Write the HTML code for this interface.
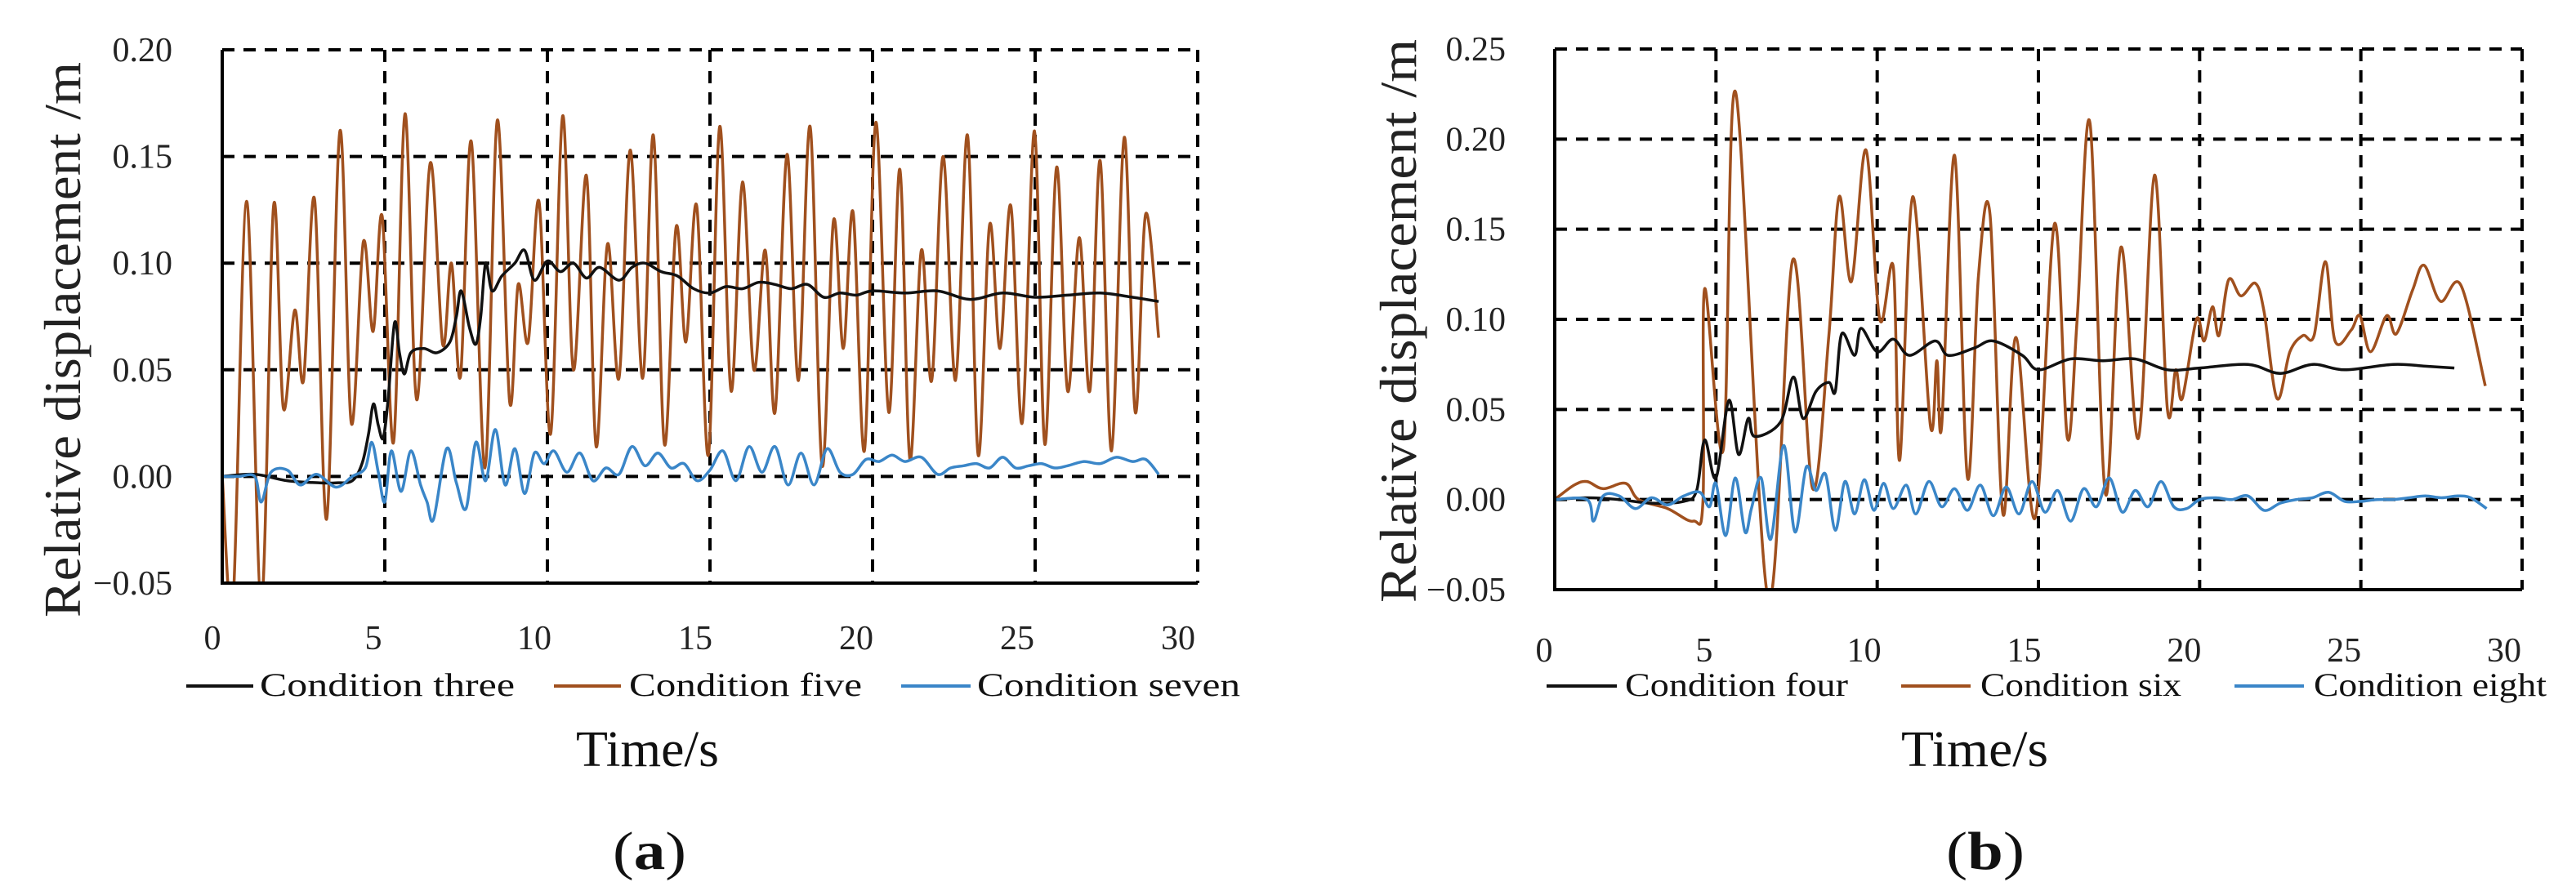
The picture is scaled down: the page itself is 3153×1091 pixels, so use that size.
<!DOCTYPE html>
<html><head><meta charset="utf-8"><style>
html,body{margin:0;padding:0;background:#fff;}
svg{display:block;font-family:"Liberation Serif",serif;}
</style></head><body>
<svg id="root" width="3153" height="1091" viewBox="0 0 3153 1091" xmlns="http://www.w3.org/2000/svg"></svg>
<script>
// ---------- Chart (a) data ----------
const aXTicks = [0,5,10,15,20,25,30];
const aYTicks = [-0.05,0,0.05,0.10,0.15,0.20];
const aYTickLabels = ["\u22120.05","0.00","0.05","0.10","0.15","0.20"];
const aFiveT = [0,0.33,0.75,1.2,1.58,1.88,2.23,2.5,2.84,3.21,3.62,3.97,4.34,4.64,4.92,5.27,5.62,5.98,6.4,6.78,7.05,7.33,7.66,8.08,8.46,8.84,9.1,9.41,9.74,10.1,10.47,10.8,11.2,11.5,11.85,12.2,12.55,12.93,13.26,13.6,13.96,14.26,14.59,14.95,15.3,15.65,16.0,16.35,16.7,17.0,17.37,17.72,18.08,18.45,18.8,19.1,19.4,19.75,20.1,20.5,20.84,21.15,21.5,21.82,22.17,22.55,22.92,23.25,23.6,23.92,24.25,24.6,24.98,25.3,25.66,26.0,26.36,26.68,27.0,27.35,27.74,28.08,28.4,28.8];
const aFiveV = [0,-0.06,0.129,-0.06,0.127,0.032,0.078,0.045,0.13,-0.02,0.162,0.025,0.11,0.068,0.122,0.016,0.17,0.036,0.147,0.062,0.1,0.047,0.157,0.004,0.167,0.035,0.09,0.063,0.129,0.02,0.169,0.05,0.141,0.014,0.109,0.046,0.153,0.046,0.16,0.015,0.117,0.063,0.127,0.01,0.164,0.04,0.138,0.05,0.106,0.03,0.151,0.045,0.164,0.005,0.12,0.06,0.124,0.012,0.166,0.03,0.144,0.008,0.106,0.045,0.15,0.045,0.16,0.01,0.118,0.06,0.127,0.025,0.162,0.015,0.145,0.04,0.112,0.04,0.148,0.012,0.159,0.03,0.123,0.065];
const aThreeT = [0,1,2,3,3.5,4.0,4.3,4.5,4.65,4.8,4.95,5.1,5.3,5.45,5.6,5.8,6.2,6.6,7.0,7.2,7.35,7.6,7.8,7.95,8.1,8.3,8.6,9.0,9.3,9.6,10.0,10.4,10.8,11.2,11.6,12.2,12.6,13.0,13.5,14.0,14.5,15.0,15.5,16.0,16.5,17.0,17.5,18.0,18.5,19.0,19.5,20.0,21.0,22.0,23.0,24.0,25.0,26.0,27.0,28.0,28.8];
const aThreeV = [0,0.001,-0.002,-0.003,-0.003,-0.002,0.006,0.02,0.034,0.024,0.018,0.036,0.072,0.058,0.048,0.058,0.06,0.058,0.063,0.075,0.087,0.07,0.062,0.075,0.1,0.087,0.094,0.1,0.106,0.092,0.101,0.096,0.1,0.093,0.098,0.092,0.098,0.1,0.096,0.094,0.088,0.086,0.089,0.088,0.091,0.09,0.088,0.09,0.084,0.086,0.085,0.087,0.086,0.087,0.083,0.086,0.084,0.085,0.086,0.084,0.082];
const aSevenT = [0,0.5,1.0,1.2,1.5,2.0,2.4,2.9,3.5,4.0,4.4,4.6,4.8,5.0,5.2,5.5,5.8,6.1,6.3,6.5,6.9,7.2,7.5,7.8,8.1,8.4,8.7,9.0,9.3,9.6,9.9,10.2,10.6,11.0,11.4,11.8,12.2,12.6,13.0,13.4,13.8,14.2,14.6,15.0,15.4,15.8,16.2,16.6,17.0,17.4,17.8,18.2,18.6,19.0,19.4,19.8,20.2,20.6,21.0,21.5,22.0,22.4,22.8,23.2,23.6,24.0,24.4,24.8,25.2,25.6,26.0,26.5,27.0,27.5,28.0,28.4,28.8];
const aSevenV = [0,0,0,-0.012,0.002,0.003,-0.004,0.001,-0.005,0,0.004,0.016,0.002,-0.012,0.012,-0.007,0.012,-0.004,-0.012,-0.02,0.013,-0.003,-0.015,0.016,-0.002,0.022,-0.004,0.013,-0.008,0.011,0.006,0.012,0.002,0.011,-0.002,0.004,0.001,0.014,0.005,0.011,0.004,0.006,-0.002,0.003,0.012,-0.002,0.014,0.002,0.014,-0.004,0.011,-0.004,0.013,0.002,0.001,0.008,0.007,0.01,0.007,0.009,0.001,0.004,0.005,0.006,0.004,0.009,0.004,0.005,0.006,0.004,0.005,0.007,0.006,0.009,0.007,0.008,0.001];

// ---------- Chart (b) data ----------
const bXTicks = [0,5,10,15,20,25,30];
const bYTicks = [-0.05,0,0.05,0.10,0.15,0.20,0.25];
const bYTickLabels = ["\u22120.05","0.00","0.05","0.10","0.15","0.20","0.25"];
const bSixT = [0,0.6,1.0,1.5,2.2,2.6,3.5,4.3,4.6,4.65,5.23,5.61,6.62,7.38,8.0,8.5,8.82,9.2,9.65,10.08,10.5,10.7,11.1,11.65,11.85,12.0,12.4,12.8,13.14,13.5,13.9,14.3,14.9,15.5,15.9,16.2,16.6,17.08,17.56,18.1,18.6,19.0,19.26,19.46,19.9,20.14,20.4,20.6,20.9,21.28,21.73,22.0,22.4,22.8,23.2,23.55,23.9,24.2,24.7,24.97,25.3,25.8,26.1,26.6,26.96,27.47,28.1,28.86];
const bSixV = [0,0.008,0.01,0.006,0.009,0.0,-0.005,-0.012,0.0,0.117,0.028,0.226,-0.055,0.133,0.006,0.091,0.168,0.121,0.194,0.1,0.129,0.022,0.168,0.041,0.077,0.041,0.191,0.012,0.124,0.158,-0.008,0.09,-0.01,0.153,0.034,0.1,0.209,0.003,0.14,0.034,0.18,0.05,0.072,0.056,0.1,0.088,0.107,0.091,0.122,0.113,0.12,0.104,0.056,0.082,0.091,0.091,0.132,0.088,0.094,0.102,0.082,0.102,0.092,0.116,0.13,0.11,0.119,0.063];
const bFourT = [0,1,2,3,4.0,4.4,4.65,5.0,5.4,5.7,6.0,6.2,7.0,7.4,7.7,8.1,8.5,8.7,8.9,9.3,9.5,10.0,10.5,11.0,11.8,12.2,13.0,13.6,14.5,15.0,16.0,17.0,18.0,19.0,20.0,21.5,22.5,23.5,24.5,26.0,27.0,27.9];
const bFourV = [0,0.001,0.0,-0.002,-0.001,0.005,0.033,0.012,0.055,0.025,0.045,0.035,0.043,0.068,0.045,0.06,0.065,0.06,0.092,0.08,0.095,0.082,0.089,0.08,0.088,0.08,0.084,0.088,0.08,0.072,0.078,0.077,0.078,0.072,0.073,0.075,0.07,0.075,0.072,0.075,0.074,0.073];
const bEightT = [0,1.0,1.2,1.5,2.0,2.5,3.0,3.5,4.0,4.5,4.8,5.0,5.3,5.6,5.9,6.1,6.4,6.7,7.1,7.45,7.8,8.1,8.4,8.7,9.0,9.3,9.6,9.9,10.2,10.5,10.9,11.2,11.6,12.0,12.4,12.8,13.2,13.6,14.0,14.4,14.8,15.2,15.6,16.0,16.4,16.8,17.2,17.6,18.0,18.4,18.8,19.2,19.6,20.0,20.5,21.0,21.5,22.0,22.5,23.0,23.5,24.0,24.5,25.0,25.5,26.0,26.5,27.0,27.5,28.0,28.4,28.9];
const bEightV = [0,0,-0.012,0.002,0.002,-0.005,0.001,-0.003,0.002,0.004,-0.004,0.009,-0.02,0.012,-0.018,-0.005,0.012,-0.022,0.03,-0.018,0.018,0.005,0.014,-0.017,0.01,-0.008,0.011,-0.006,0.009,-0.005,0.008,-0.008,0.01,-0.004,0.006,-0.006,0.008,-0.009,0.007,-0.008,0.01,-0.007,0.005,-0.012,0.006,-0.004,0.012,-0.007,0.005,-0.004,0.01,-0.004,-0.005,0.0,0.001,0.0,0.002,-0.006,-0.002,0.0,0.001,0.004,-0.001,-0.001,0.0,0.0,0.001,0.002,0.001,0.002,0.001,-0.005];

const NS = "http://www.w3.org/2000/svg";
const root = document.getElementById('root');
function mk(tag, attrs, parent){const e=document.createElementNS(NS,tag);for(const k in attrs)e.setAttribute(k,attrs[k]);(parent||root).appendChild(e);return e;}

function smoothPath(pts){
  let d = "M"+pts[0][0].toFixed(1)+","+pts[0][1].toFixed(1);
  for(let i=0;i<pts.length-1;i++){
    const p0=pts[Math.max(0,i-1)],p1=pts[i],p2=pts[i+1],p3=pts[Math.min(pts.length-1,i+2)];
    const c1x=p1[0]+(p2[0]-p0[0])/6,c1y=p1[1]+(p2[1]-p0[1])/6;
    const c2x=p2[0]-(p3[0]-p1[0])/6,c2y=p2[1]-(p3[1]-p1[1])/6;
    d+=" C"+c1x.toFixed(1)+","+c1y.toFixed(1)+" "+c2x.toFixed(1)+","+c2y.toFixed(1)+" "+p2[0].toFixed(1)+","+p2[1].toFixed(1);
  }
  return d;
}

function drawChart(cfg){
  const g = mk('g',{});
  
  
  const sx = t => cfg.x0 + (t - 0)/30*(cfg.x1-cfg.x0);
  const sy = v => cfg.yb + (v - cfg.ymin)/(cfg.ymax-cfg.ymin)*(cfg.yt-cfg.yb);
  const clipId = cfg.name+"-clip";
  const defs = mk('defs',{},g);
  const cp = mk('clipPath',{id:clipId},defs);
  mk('rect',{x:cfg.x0,y:cfg.yt,width:cfg.x1-cfg.x0,height:cfg.yb-cfg.yt},cp);
  // gridlines
  cfg.yTicks.forEach((v,i)=>{
    if(i===0) return;
    const l = mk('line',{x1:cfg.x0,x2:cfg.x1,y1:sy(v),y2:sy(v),stroke:'#000','stroke-width':4,'stroke-dasharray':'15 11'},g);
    
    
  });
  cfg.xTicks.forEach((t,i)=>{
    if(i===0) return;
    const l = mk('line',{x1:sx(t),x2:sx(t),y1:cfg.yt,y2:cfg.yb,stroke:'#000','stroke-width':4,'stroke-dasharray':'15 11'},g);
    
    
  });
  // series
  cfg.series.forEach(s=>{
    const pts = s.t.map((t,i)=>[sx(t), sy(s.v[i])]);
    const p = mk('path',{d:smoothPath(pts),fill:'none',stroke:s.color,'stroke-width':3.5,'stroke-linejoin':'round','clip-path':'url(#'+clipId+')'},g);
    
    
  });
  // axes
  const ax = mk('path',{d:`M${cfg.x0},${cfg.yt} L${cfg.x0},${cfg.yb} L${cfg.x1},${cfg.yb}`,fill:'none',stroke:'#000','stroke-width':4},g);
  
  
  // y tick labels
  cfg.yTicks.forEach((v,i)=>{
    const t = mk('text',{x:cfg.yLabelX,y:sy(v)+14,'text-anchor':'end','font-size':42,fill:'#222'},g);
    t.textContent = cfg.yLabels[i];
    
    
  });
  // x tick labels (slightly offset like original)
  cfg.xTicks.forEach((tv,i)=>{
    const x = cfg.xl0 + (cfg.xl1-cfg.xl0)*i/(cfg.xTicks.length-1);
    const t = mk('text',{x:x,y:cfg.xLabelY,'text-anchor':'middle','font-size':42,fill:'#222'},g);
    t.textContent = String(tv);
    
    
  });
  // y title
  const yt = mk('text',{x:0,y:0,'text-anchor':'middle','font-size':64,fill:'#222',transform:`translate(${cfg.yTitleX},${cfg.yTitleY}) rotate(-90)`,textLength:cfg.yTitleLen,lengthAdjust:'spacingAndGlyphs'},g);
  yt.textContent = "Relative  displacement  /m";
  
  
  // legend
  cfg.legend.forEach(L=>{
    const lg = mk('g',{},g);
    
    
    mk('line',{x1:L.l0,x2:L.l1,y1:840,y2:840,stroke:L.color,'stroke-width':4},lg);
    const t = mk('text',{x:L.t0,y:852,'font-size':40,fill:'#111',textLength:L.t1-L.t0,lengthAdjust:'spacingAndGlyphs'},lg);
    t.textContent = L.label;
  });
  const xt = mk('text',{x:cfg.xTitle[0],y:938,'font-size':62,fill:'#111',textLength:cfg.xTitle[1]-cfg.xTitle[0],lengthAdjust:'spacingAndGlyphs'},g);
  xt.textContent = "Time/s";
  
  
  const cap = mk('text',{x:cfg.cap[0],y:1064,'font-size':66,fill:'#111',textLength:cfg.cap[1]-cfg.cap[0],lengthAdjust:'spacingAndGlyphs'},g);
  cap.innerHTML = '(<tspan font-weight="bold">'+cfg.capLetter+'</tspan>)';
  
  
}

drawChart({name:'chart-a',x0:272,x1:1466,yt:61,yb:714,ymin:-0.05,ymax:0.20,
  xTicks:aXTicks,yTicks:aYTicks,yLabels:aYTickLabels,yLabelX:211,xl0:260,xl1:1442,xLabelY:795,
  yTitleX:98,yTitleY:416,yTitleLen:680,xTitle:[705,880],cap:[750,840],capLetter:'a',
  series:[{id:'condition-five',t:aFiveT,v:aFiveV,color:'#a0501e'},{id:'condition-three',t:aThreeT,v:aThreeV,color:'#111'},{id:'condition-seven',t:aSevenT,v:aSevenV,color:'#3a86c8'}],
  legend:[{l0:228,l1:310,t0:318,t1:630,color:'#111',label:'Condition three'},{l0:678,l1:760,t0:770,t1:1055,color:'#a0501e',label:'Condition five'},{l0:1103,l1:1188,t0:1196,t1:1518,color:'#3a86c8',label:'Condition seven'}]});

drawChart({name:'chart-b',x0:1903,x1:3087,yt:60,yb:722,ymin:-0.05,ymax:0.25,
  xTicks:bXTicks,yTicks:bYTicks,yLabels:bYTickLabels,yLabelX:1843,xl0:1890,xl1:3065,xLabelY:810,
  yTitleX:1733,yTitleY:393,yTitleLen:690,xTitle:[2327,2507],cap:[2382,2478],capLetter:'b',
  series:[{id:'condition-six',t:bSixT,v:bSixV,color:'#a0501e'},{id:'condition-four',t:bFourT,v:bFourV,color:'#111'},{id:'condition-eight',t:bEightT,v:bEightV,color:'#3a86c8'}],
  legend:[{l0:1893,l1:1979,t0:1989,t1:2262,color:'#111',label:'Condition four'},{l0:2327,l1:2412,t0:2424,t1:2670,color:'#a0501e',label:'Condition six'},{l0:2735,l1:2820,t0:2832,t1:3117,color:'#3a86c8',label:'Condition eight'}]});
</script>
</body></html>
